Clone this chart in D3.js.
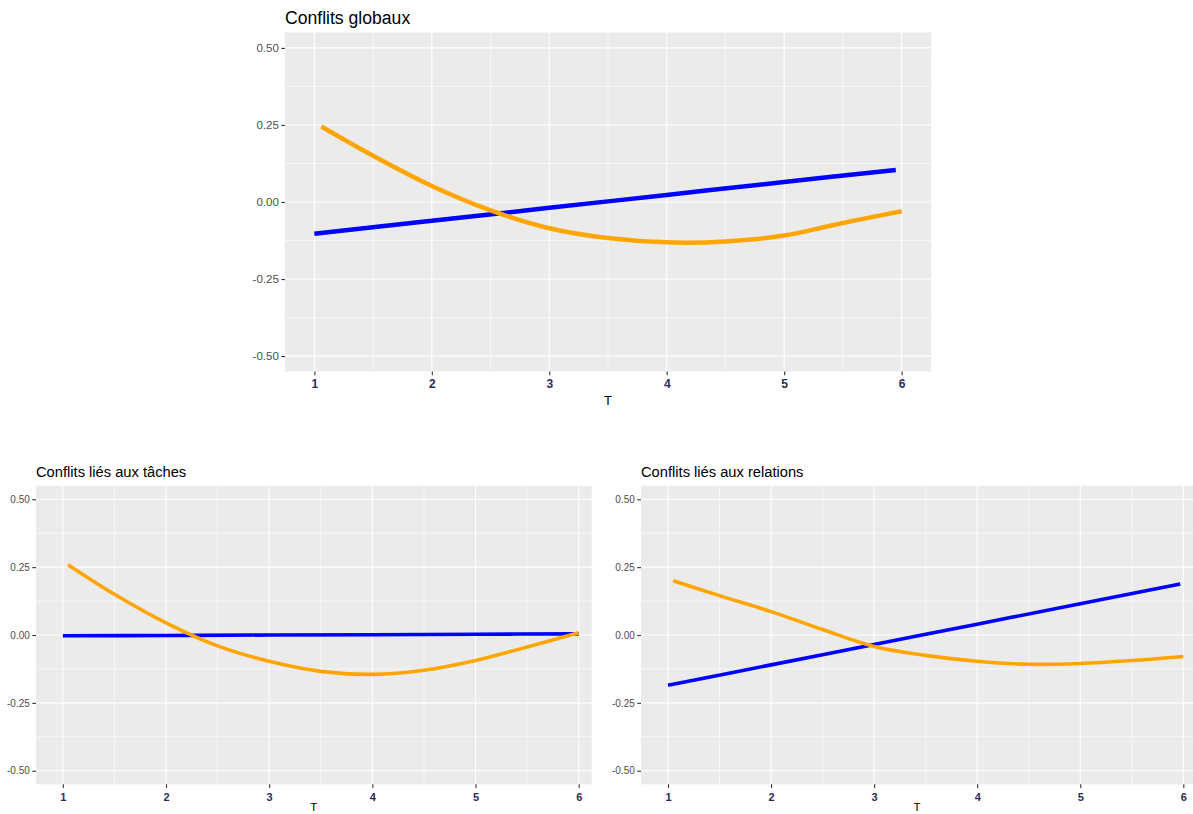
<!DOCTYPE html>
<html>
<head>
<meta charset="utf-8">
<script src="https://cdn.jsdelivr.net/npm/d3@7"></script>
<style>
  html, body { margin: 0; padding: 0; background: #ffffff; }
  svg { display: block; }
</style>
</head>
<body>
<svg id="chart" width="1193" height="814"></svg>
<script>
// ---------------- DATA ----------------
const xTicks = [1, 2, 3, 4, 5, 6];
const xMinor = [1.5, 2.5, 3.5, 4.5, 5.5];
const yTicks = [-0.5, -0.25, 0, 0.25, 0.5];
const yTickLabels = ["-0.50", "-0.25", "0.00", "0.25", "0.50"];
const yMinor = [-0.375, -0.125, 0.125, 0.375];
const xAxisTitle = "T";
const panelTitles = ["Conflits globaux", "Conflits liés aux tâches", "Conflits liés aux relations"];

// Conflits globaux
const globBlueX = [1.0, 2.0, 3.0, 4.0, 5.0, 5.95];
const globBlueY = [-0.103, -0.061, -0.019, 0.023, 0.065, 0.104];
const globOrangeX = [1.06, 1.5, 2.0, 2.5, 3.0, 3.5, 4.0, 4.5, 5.0, 5.5, 6.0];
const globOrangeY = [0.245, 0.150, 0.052, -0.027, -0.085, -0.117, -0.131, -0.128, -0.109, -0.068, -0.030];

// Conflits liés aux tâches
const tachBlueX = [1.0, 2.0, 3.0, 4.0, 5.0, 6.0];
const tachBlueY = [-0.003, -0.002, 0.0, 0.001, 0.003, 0.004];
const tachOrangeX = [1.05, 1.5, 2.0, 2.5, 3.0, 3.5, 4.0, 4.5, 5.0, 5.5, 6.0];
const tachOrangeY = [0.259, 0.150, 0.045, -0.040, -0.097, -0.134, -0.145, -0.130, -0.094, -0.044, 0.008];

// Conflits liés aux relations
const relBlueX = [1.0, 2.0, 3.0, 4.0, 5.0, 5.97];
const relBlueY = [-0.185, -0.110, -0.035, 0.040, 0.115, 0.188];
const relOrangeX = [1.05, 1.5, 2.0, 2.5, 3.0, 3.5, 4.0, 4.5, 5.0, 5.5, 6.0];
const relOrangeY = [0.200, 0.145, 0.086, 0.020, -0.042, -0.075, -0.097, -0.108, -0.105, -0.094, -0.079];

const blueColor = "#0000ff";
const orangeColor = "#ffa500";

// ---------------- LAYOUT ----------------
const panels = [
  { title: panelTitles[0], left: 285, right: 931, top: 32.5, bottom: 371.5,
    xDomain: [0.75, 6.25], titleSize: 17.6, titleY: 23.5, tickSize: 11.5, xTickSize: 12,
    xTickY: 388, xTitleY: 405, xTitleSize: 13, lw: 4.5,
    series: [[globBlueX, globBlueY, blueColor], [globOrangeX, globOrangeY, orangeColor]] },
  { title: panelTitles[1], left: 36, right: 591.7, top: 485.7, bottom: 784.3,
    xDomain: [0.74, 6.126], titleSize: 14.7, titleY: 476.5, tickSize: 10, xTickSize: 11,
    xTickY: 800.5, xTitleY: 811, xTitleSize: 11.5, lw: 3.6,
    series: [[tachBlueX, tachBlueY, blueColor], [tachOrangeX, tachOrangeY, orangeColor]] },
  { title: panelTitles[2], left: 641, right: 1193, top: 485.7, bottom: 784.3,
    xDomain: [0.738, 6.094], titleSize: 14.7, titleY: 476.5, tickSize: 10, xTickSize: 11,
    xTickY: 800.5, xTitleY: 811, xTitleSize: 11.5, lw: 3.6,
    series: [[relBlueX, relBlueY, blueColor], [relOrangeX, relOrangeY, orangeColor]] }
];

const svg = d3.select("#chart");

panels.forEach(p => {
  const x = d3.scaleLinear().domain(p.xDomain).range([p.left, p.right]);
  const y = d3.scaleLinear().domain([-0.55, 0.55]).range([p.bottom, p.top]);
  const g = svg.append("g");

  // panel background
  g.append("rect")
    .attr("x", p.left).attr("y", p.top)
    .attr("width", p.right - p.left).attr("height", p.bottom - p.top)
    .attr("fill", "#ebebeb");

  // minor grid
  g.selectAll(".ymin").data(yMinor).join("line")
    .attr("x1", p.left).attr("x2", p.right)
    .attr("y1", d => y(d)).attr("y2", d => y(d))
    .attr("stroke", "#ffffff").attr("stroke-width", 0.6);
  g.selectAll(".xmin").data(xMinor.filter(d => d > p.xDomain[0] && d < p.xDomain[1])).join("line")
    .attr("y1", p.top).attr("y2", p.bottom)
    .attr("x1", d => x(d)).attr("x2", d => x(d))
    .attr("stroke", "#ffffff").attr("stroke-width", 0.6);
  // major grid
  g.append("g").selectAll("line").data(yTicks).join("line")
    .attr("x1", p.left).attr("x2", p.right)
    .attr("y1", d => y(d)).attr("y2", d => y(d))
    .attr("stroke", "#ffffff").attr("stroke-width", 1.1);
  g.append("g").selectAll("line").data(xTicks).join("line")
    .attr("y1", p.top).attr("y2", p.bottom)
    .attr("x1", d => x(d)).attr("x2", d => x(d))
    .attr("stroke", "#ffffff").attr("stroke-width", 1.1);

  // y axis
  const yAxis = d3.axisLeft(y).tickValues(yTicks)
    .tickFormat((d, i) => yTickLabels[i]).tickSize(3.7).tickPadding(2.5);
  const ya = g.append("g").attr("transform", `translate(${p.left},0)`).call(yAxis);
  ya.select(".domain").remove();
  ya.selectAll("line").attr("stroke", "#333333").attr("stroke-width", 1.1);
  ya.selectAll("text").attr("fill", "#4d4d4d")
    .style("font-family", "Liberation Sans, Arial, sans-serif")
    .style("font-size", p.tickSize + "px");

  // x axis
  const xAxis = d3.axisBottom(x).tickValues(xTicks).tickFormat(d3.format("d"))
    .tickSize(3.7).tickPadding(2.5);
  const xa = g.append("g").attr("transform", `translate(0,${p.bottom})`).call(xAxis);
  xa.select(".domain").remove();
  xa.selectAll("line").attr("stroke", "#333333").attr("stroke-width", 1.1);
  xa.selectAll("text").attr("fill", "#2e2a58")
    .attr("y", null).attr("dy", null)
    .attr("transform", `translate(0,${p.xTickY - p.bottom})`)
    .style("font-family", "Liberation Sans Narrow, Liberation Sans, Arial, sans-serif")
    .style("font-weight", "bold")
    .style("font-size", p.xTickSize + "px");

  // x axis title
  g.append("text")
    .attr("x", (p.left + p.right) / 2).attr("y", p.xTitleY)
    .attr("text-anchor", "middle")
    .style("font-family", "Liberation Sans, Arial, sans-serif")
    .style("font-size", p.xTitleSize + "px")
    .attr("fill", "#000000")
    .text(xAxisTitle);

  // title
  g.append("text")
    .attr("x", p.left).attr("y", p.titleY)
    .style("font-family", "Liberation Sans, Arial, sans-serif")
    .style("font-size", p.titleSize + "px")
    .attr("fill", "#000000")
    .text(p.title);

  // series lines
  const line = d3.line().x(d => x(d[0])).y(d => y(d[1])).curve(d3.curveCatmullRom.alpha(0.5));
  p.series.forEach(([xs, ys, color]) => {
    const pts = xs.map((v, i) => [v, ys[i]]);
    g.append("path").datum(pts)
      .attr("d", line)
      .attr("fill", "none")
      .attr("stroke", color)
      .attr("stroke-width", p.lw)
      .attr("stroke-linecap", "butt")
      .attr("stroke-linejoin", "round");
  });
});
</script>
</body>
</html>
